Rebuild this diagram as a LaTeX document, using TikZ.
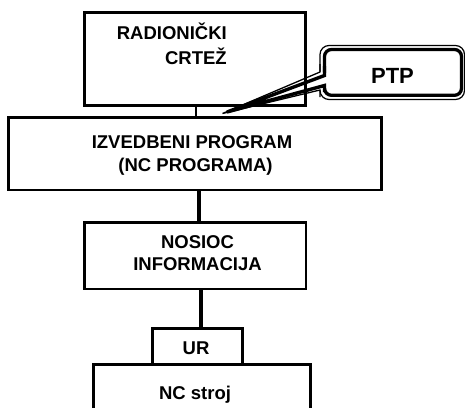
\documentclass[tikz,border=0pt]{standalone}
\usepackage{fontspec}
\setmainfont{Liberation Sans}
\begin{document}
\begin{tikzpicture}[x=1pt,y=-1pt,
  box/.style={draw,line width=2.8pt,inner sep=0pt},
  lbl/.style={inner sep=0pt,font=\bfseries\fontsize{18.5}{22}\selectfont},
  conn/.style={line width=#1},
  conn/.default=3.4pt]
\useasboundingbox (0,0) rectangle (465,407);
\clip (0,0) rectangle (465,407);
% boxes
\node[box,minimum width=221.2pt,minimum height=93pt] (crt) at (194.9,59.1) {};
\node[box,minimum width=373.2pt,minimum height=72.5pt] (izv) at (194.9,153.75) {};
\node[box,minimum width=221.5pt,minimum height=66.5pt] (nos) at (195.25,255.75) {};
\node[box,minimum width=90pt,minimum height=35.7pt] (ur) at (197.5,346.15) {};
\node[box,minimum width=217pt,minimum height=65.3pt] (nc) at (202.2,397.35) {};
% labels
\node[lbl,anchor=base east] (t1a) at (227,39.3) {RADIONIČKI};
\node[lbl,anchor=base east] (t1b) at (227,64.3) {CRTEŽ};
\node[lbl,anchor=base] (t2a) at (192,148.3) {IZVEDBENI PROGRAM};
\node[lbl,anchor=base] (t2b) at (195.5,171.5) {(NC PROGRAMA)};
\node[lbl,anchor=base] (t3a) at (197.5,248.3) {NOSIOC};
\node[lbl,anchor=base] (t3b) at (197.5,270.5) {INFORMACIJA};
\node[lbl,anchor=base] (t4) at (196,354) {UR};
\node[lbl,anchor=base] (t5) at (195,399) {NC stroj};
% connectors
\draw[conn=2pt] ([xshift=1pt]crt.south) -- ([xshift=1pt]izv.north);
\draw[conn=3.5pt] ([xshift=4.3pt]izv.south) -- ([xshift=3.95pt]nos.north);
\draw[conn] ([xshift=5.75pt]nos.south) -- ([xshift=3.5pt]ur.north);
% callout PTP
\draw[line width=1.2pt,rounded corners=9pt,fill=white] (320,45.5) rectangle (464.5,99.5);
\draw[line width=3.3pt,rounded corners=7pt] (324.5,49.5) rectangle (461.5,95.3);
\fill[white] (317,71) -- (328,73.5) -- (328,87.5) -- (317,91) -- cycle;
\draw[line width=1.3pt] (320,64) -- (320,72) -- (222.5,113.5) -- (320,90) -- (320,97);
\draw[line width=3.4pt] (324.5,66) -- (324.5,75.5) -- (227,112) -- (324.5,85.5) -- (324.5,92);
\node[inner sep=0pt,font=\bfseries\fontsize{22}{26}\selectfont,anchor=base] (ptp) at (392.5,83.3) {PTP};
\end{tikzpicture}
\end{document}
